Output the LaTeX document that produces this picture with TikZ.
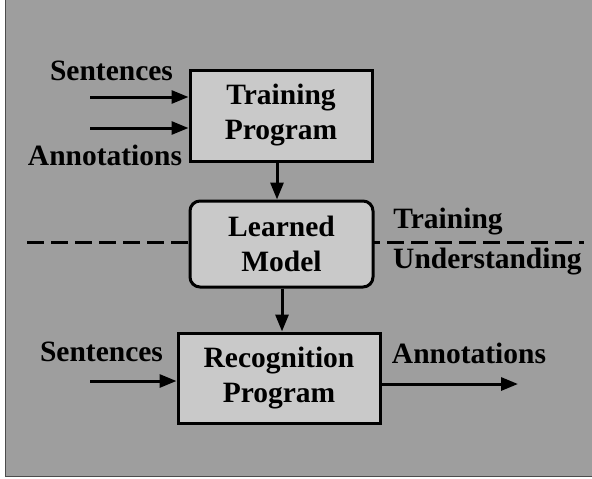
\documentclass[tikz,border=0pt]{standalone}
\usepackage{fontspec}
\setmainfont{Liberation Serif}
\usetikzlibrary{arrows.meta}
\definecolor{panel}{gray}{0.62}
\definecolor{boxfill}{gray}{0.79}
\tikzset{
  lbl/.style={font=\fontsize{29.5}{34}\selectfont\bfseries, inner sep=0pt, anchor=base},
  prog/.style={draw=black, line width=3pt, fill=boxfill, align=center,
    font=\fontsize{29.5}{35}\selectfont\bfseries, inner sep=0pt},
  arr/.style={line width=3pt, -{Triangle[length=17pt,width=13pt]}},
  divider/.style={line width=3pt, dash pattern=on 17pt off 7pt}
}
\begin{document}
\begin{tikzpicture}[x=1pt,y=-1pt]
  \useasboundingbox (0,0) rectangle (592,479);
  % halftone panel
  \fill[panel] (5,0) rectangle (592,476);
  \draw[gray!60!black, line width=1pt] (5,0) -- (5,476) -- (592,476);

  % training / understanding divider
  \coordinate (dl) at (27,242);
  \coordinate (dr) at (584,242);
  \draw[divider] (dl) -- (dr);

  % programs and model
  \node[prog, minimum width=182pt, minimum height=91pt] (TP) at (281,115.5) {Training\\Program};
  \node[prog, rounded corners=10pt, minimum width=183pt, minimum height=86pt] (LM) at (281.5,244) {Learned\\Model};
  \node[prog, minimum width=202pt, minimum height=90pt] (RP) at (279,378) {Recognition\\Program};

  % labels
  \node[lbl] (s1) at (111.5,80) {Sentences};
  \node[lbl] (a1) at (105,165) {Annotations};
  \node[lbl] (tr) at (448,228) {Training};
  \node[lbl] (un) at (487.5,268) {Understanding};
  \node[lbl] (s2) at (101.5,361) {Sentences};
  \node[lbl] (a2) at (469,363) {Annotations};

  % connectors
  \coordinate (in1) at (90,97);
  \coordinate (in2) at (90,128);
  \coordinate (in3) at (90,381);
  \coordinate (out) at (518,384);
  \draw[arr] (in1) -- (in1 -| TP.west);
  \draw[arr] (in2) -- (in2 -| TP.west);
  \draw[arr] ([xshift=-4pt]TP.south) -- ([xshift=-4pt]TP.south |- LM.north);
  \draw[arr] ([xshift=0.5pt]LM.south) -- ([xshift=0.5pt]LM.south |- RP.north);
  \draw[arr] (in3) -- (in3 -| RP.west);
  \draw[arr] (out -| RP.east) -- (out);
\end{tikzpicture}
\end{document}
